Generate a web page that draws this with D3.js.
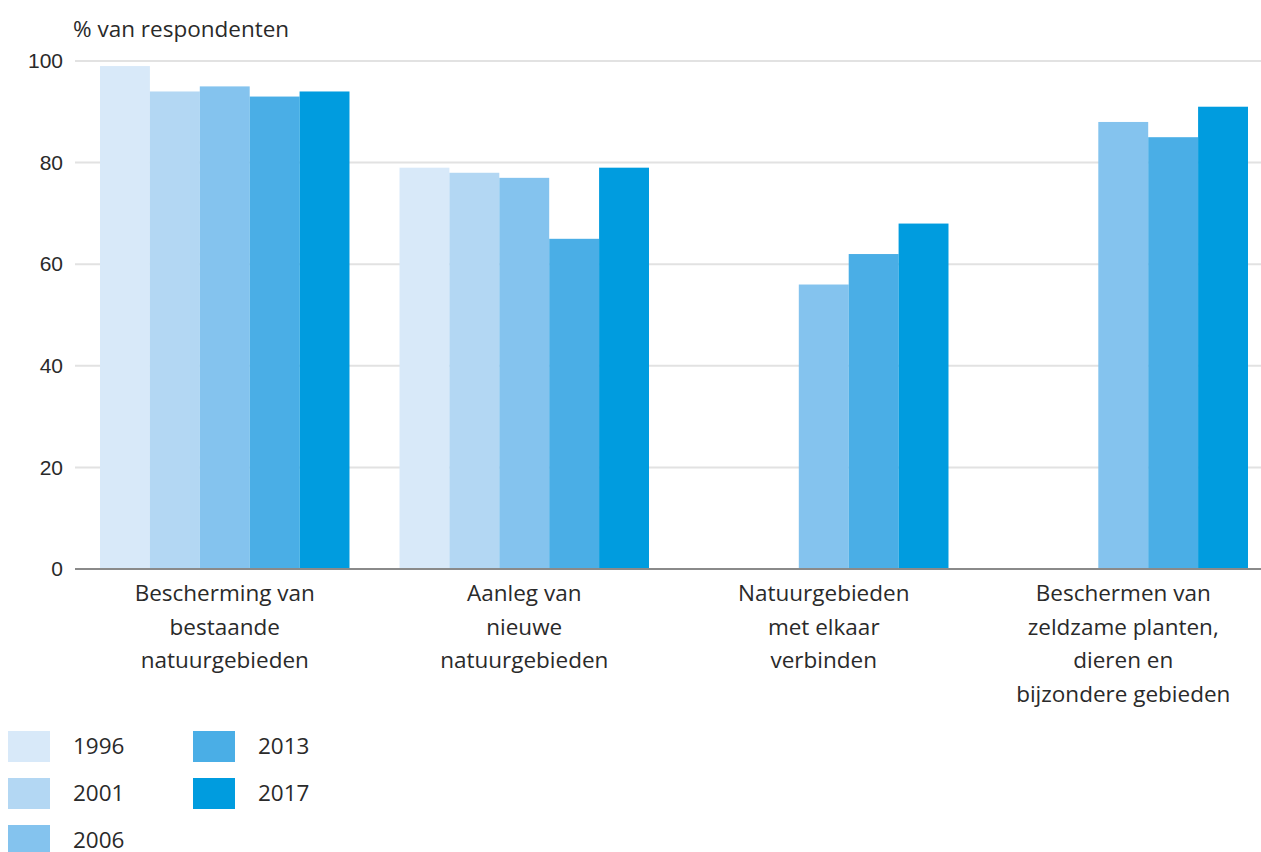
<!DOCTYPE html>
<html>
<head>
<meta charset="utf-8">
<script src="https://cdn.jsdelivr.net/npm/d3@7"></script>
<style>
  body { margin: 0; background: #fff; }
  svg { font-family: 'Open Sans', sans-serif; }
  .grid line { stroke: #e2e2e2; stroke-width: 2; }
  .tick text { fill: #2a2a2a; }
</style>
</head>
<body>
<script>
/* data */
const categories = [
  ['Bescherming van', 'bestaande', 'natuurgebieden'],
  ['Aanleg van', 'nieuwe', 'natuurgebieden'],
  ['Natuurgebieden', 'met elkaar', 'verbinden'],
  ['Beschermen van', 'zeldzame planten,', 'dieren en', 'bijzondere gebieden']
];
const years = ['1996', '2001', '2006', '2013', '2017'];
const values1996 = [99, 79, null, null];
const values2001 = [94, 78, null, null];
const values2006 = [95, 77, 56, 88];
const values2013 = [93, 65, 62, 85];
const values2017 = [94, 79, 68, 91];
const yTicks = [0, 20, 40, 60, 80, 100];
const colors = ['#d8e9f9', '#b3d7f3', '#84c3ee', '#4aaee6', '#009cdf'];

const series = [values1996, values2001, values2006, values2013, values2017];

const W = 1261, H = 852;
// plot area
const plot = { left: 75, right: 1273, top: 61, bottom: 569 };

const svg = d3.select('body').append('svg')
  .attr('width', W)
  .attr('height', H);

/* scales */
const x0 = d3.scaleBand()
  .domain(d3.range(categories.length))
  .range([plot.left, plot.right])
  .paddingInner(0.167)
  .paddingOuter(0.0835);
const x1 = d3.scaleBand()
  .domain(years)
  .range([0, x0.bandwidth()]);
const y = d3.scaleLinear().domain([0, 100]).range([plot.bottom, plot.top]);
const color = d3.scaleOrdinal().domain(years).range(colors);

// gridlines
svg.append('g')
  .attr('class', 'grid')
  .selectAll('line')
  .data(yTicks.filter(d => d > 0))
  .enter().append('line')
  .attr('x1', plot.left)
  .attr('x2', W)
  .attr('y1', d => y(d))
  .attr('y2', d => y(d));

// y tick labels
const yAxis = d3.axisLeft(y).tickValues(yTicks).tickSize(0).tickPadding(12);
svg.append('g')
  .attr('transform', `translate(${plot.left},0)`)
  .call(yAxis)
  .call(g => g.select('.domain').remove())
  .selectAll('text')
  .style('font-size', '21px')
  .attr('x', -12);

svg.append('text')
  .attr('x', 73)
  .attr('y', 37)
  .style('font-size', '22.5px')
  .style('fill', '#2a2a2a')
  .text('% van respondenten');

// bars
const rows = [];
series.forEach((vals, si) => {
  vals.forEach((v, ci) => {
    if (v != null) rows.push({ cat: ci, year: years[si], value: v });
  });
});

svg.append('g').selectAll('rect')
  .data(rows)
  .enter().append('rect')
  .attr('x', d => x0(d.cat) + x1(d.year))
  .attr('width', x1.bandwidth())
  .attr('y', d => y(d.value))
  .attr('height', d => y(0) - y(d.value))
  .style('fill', d => color(d.year));

// baseline
svg.append('line')
  .attr('x1', plot.left).attr('x2', W)
  .attr('y1', y(0)).attr('y2', y(0))
  .style('stroke', '#8a8a8a')
  .style('stroke-width', 2);

// category labels
const catG = svg.append('g').selectAll('text')
  .data(categories)
  .enter().append('text')
  .attr('x', (d, i) => x0(i) + x0.bandwidth() / 2)
  .attr('y', 601)
  .attr('text-anchor', 'middle')
  .style('font-size', '22.5px')
  .style('fill', '#2a2a2a');
catG.selectAll('tspan')
  .data(d => d)
  .enter().append('tspan')
  .attr('x', function () { return d3.select(this.parentNode).attr('x'); })
  .attr('dy', (d, i) => i === 0 ? 0 : 33.5)
  .text(d => d);

// legend
const legend = svg.selectAll('.legend')
  .data(years)
  .enter().append('g')
  .attr('class', 'legend')
  .attr('transform', (d, i) => {
    const col = i < 3 ? 0 : 1;
    const row = i < 3 ? i : i - 3;
    return `translate(${8 + col * 185}, ${731 + row * 47})`;
  });

legend.append('rect')
  .attr('width', 42)
  .attr('height', 31)
  .style('fill', d => color(d));

legend.append('text')
  .attr('x', 65)
  .attr('y', 23)
  .style('font-size', '22.5px')
  .style('fill', '#2a2a2a')
  .text(d => d);
</script>
</body>
</html>
